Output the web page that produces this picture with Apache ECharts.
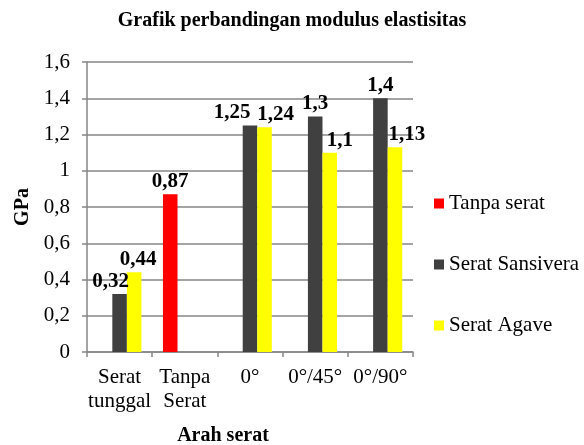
<!DOCTYPE html>
<html>
<head>
<meta charset="utf-8">
<script src="https://cdn.jsdelivr.net/npm/echarts@6/dist/echarts.min.js"></script>
<style>
  html, body { margin: 0; padding: 0; background: #fff; }
  #chart { width: 584px; height: 445px; }
</style>
</head>
<body>
<div id="chart"></div>
<script>
// values
let categories = ['Serat\ntunggal', 'Tanpa\nSerat', '0°', '0°/45°', '0°/90°'];
let seriesNames = ['Tanpa serat', 'Serat Sansivera', 'Serat Agave'];
let tanpaSerat = [null, 0.87, null, null, null];
let seratSansivera = [0.32, null, 1.25, 1.3, 1.4];
let seratAgave = [0.44, null, 1.24, 1.1, 1.13];
let yTicks = [0, 0.2, 0.4, 0.6, 0.8, 1, 1.2, 1.4, 1.6];

// label nudges so neighbouring labels don't overlap (like excel does)
let nudgeSansivera = [-9, 0, -18, 0, 0];
let nudgeAgave = [4, 0, 11, 10, 12];

let font = 'Liberation Serif, Times New Roman, serif';
let colors = ['#ff0000', '#404040', '#ffff00'];

function comma(v){
    return String(+Number(v).toFixed(2)).replace('.', ',');
}

function makeData(values, nudges){
    return values.map((v, i) => {
        if(v === null) return null;
        let item = { value: v };
        if(nudges) item.label = { offset: [nudges[i], 0] };
        return item;
    });
}

let labelStyle = {
    show: true,
    position: 'top',
    distance: 2,
    fontFamily: font,
    fontSize: 21,
    fontWeight: 'bold',
    color: '#000',
    formatter: p => comma(p.value)
};

let chart = echarts.init(document.getElementById('chart'));
chart.setOption({
    animation: false,
    color: colors,
    title: {
        text: 'Grafik perbandingan modulus elastisitas',
        left: 'center',
        top: 6,
        textStyle: { fontFamily: font, fontSize: 20, fontWeight: 'bold', color: '#000' }
    },
    legend: {
        orient: 'vertical',
        left: 429,
        top: 188,
        itemGap: 40,
        itemWidth: 10,
        itemHeight: 10,
        icon: 'rect',
        data: seriesNames,
        textStyle: { fontFamily: font, fontSize: 21, color: '#000', lineHeight: 21 }
    },
    grid: { left: 87, right: 171, top: 62, bottom: 93, outerBoundsMode: 'none', containLabel: false },
    xAxis: {
        type: 'category',
        data: categories,
        name: 'Arah serat',
        nameLocation: 'middle',
        nameGap: 74,
        nameTextStyle: { fontFamily: font, fontSize: 20, fontWeight: 'bold', color: '#000', padding: [0, 54, 0, 0] },
        axisLine: { lineStyle: { color: '#868686', width: 1.5 } },
        axisTick: { show: true, length: 5, lineStyle: { color: '#868686', width: 1.5 } },
        axisLabel: { interval: 0, fontFamily: font, fontSize: 21, color: '#000', lineHeight: 24, margin: 13 }
    },
    yAxis: {
        type: 'value',
        min: yTicks[0],
        max: yTicks[yTicks.length - 1],
        interval: 0.2,
        name: 'GPa',
        nameLocation: 'middle',
        nameGap: 54,
        nameTextStyle: { fontFamily: font, fontSize: 20, fontWeight: 'bold', color: '#000' },
        axisLine: { show: true, lineStyle: { color: '#868686', width: 1.5 } },
        axisTick: { show: true, length: 5, lineStyle: { color: '#868686', width: 1.5 } },
        splitLine: { lineStyle: { color: '#868686', width: 1.5 } },
        axisLabel: { fontFamily: font, fontSize: 21, color: '#000', margin: 17, formatter: v => comma(v) }
    },
    series: [
        { name: seriesNames[0], type: 'bar', barGap: 0, barCategoryGap: '33%', data: makeData(tanpaSerat), label: labelStyle },
        { name: seriesNames[1], type: 'bar', barGap: 0, barCategoryGap: '33%', data: makeData(seratSansivera, nudgeSansivera), label: labelStyle },
        { name: seriesNames[2], type: 'bar', barGap: 0, barCategoryGap: '33%', data: makeData(seratAgave, nudgeAgave), label: labelStyle }
    ]
});
</script>
</body>
</html>
